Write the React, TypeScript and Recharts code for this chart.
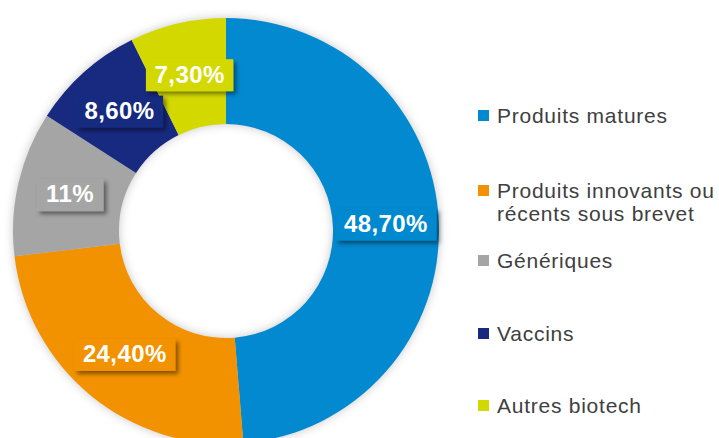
import React from 'react';
import { PieChart, Pie, Cell, Legend } from 'recharts';

const categories = ['Produits matures', 'Produits innovants ou récents sous brevet', 'Génériques', 'Vaccins', 'Autres biotech'];
const shares = [48.7, 24.4, 11, 8.6, 7.3];
const valueLabels = ['48,70%', '24,40%', '11%', '8,60%', '7,30%'];
const colors = ['#0389CF', '#F39200', '#A5A5A5', '#172A80', '#D3D900'];

const data = categories.map((name, i) => ({ name, value: shares[i], label: valueLabels[i], color: colors[i] }));

const RAD = Math.PI / 180;

// rough Arial bold widths at 24px
const textWidth = (s: string) =>
  s.split('').reduce((w, ch) => w + (ch === ',' ? 6.7 : ch === '%' ? 21.3 : 13.8), 0);

const SliceLabel = (props: any) => {
  const { cx, cy, midAngle, innerRadius, outerRadius, index } = props;
  const r = (innerRadius + outerRadius) / 2;
  const x = cx + r * Math.cos(-midAngle * RAD);
  const y = cy + r * Math.sin(-midAngle * RAD);
  const text = valueLabels[index];
  const w = textWidth(text) + 18;
  const h = 32;
  return (
    <g>
      <rect x={x - w / 2} y={y - h / 2} width={w} height={h} fill={colors[index]} filter="url(#lblShadow)" />
      <text
        x={x}
        y={y + 1}
        textAnchor="middle"
        dominantBaseline="middle"
        fill="#fff"
        fontSize={24}
        fontWeight="bold"
        letterSpacing={0.4}
        fontFamily="'Liberation Sans', Arial, sans-serif"
      >
        {text}
      </text>
    </g>
  );
};

const legendTops = [104, 179, 249, 322, 394];

const LegendBox = () => (
  <div style={{ position: 'relative', width: 240, height: 438 }}>
    {data.map((d, i) => (
      <div key={d.name} style={{ position: 'absolute', top: legendTops[i], left: 0, display: 'flex', alignItems: 'flex-start' }}>
        <span style={{ width: 11, height: 11, background: d.color, marginTop: 6, marginRight: 8, flex: 'none' }} />
        <span style={{ fontSize: 21, lineHeight: '23px', color: '#404040', width: 232, letterSpacing: 0.75, whiteSpace: 'nowrap' }}>
          {i === 1 ? (
            <>
              Produits innovants ou
              <br />
              récents sous brevet
            </>
          ) : (
            d.name
          )}
        </span>
      </div>
    ))}
  </div>
);

export default function App() {
  return (
    <div style={{ position: 'absolute', left: 0, top: 0, width: 719, height: 438, background: '#fff', overflow: 'hidden', fontFamily: "'Liberation Sans', Arial, sans-serif" }}>
      <style>{`body{margin:0} .recharts-layer.recharts-pie{filter: drop-shadow(0 0 5px rgba(0,0,0,0.22));}`}</style>
      <svg width={0} height={0} style={{ position: 'absolute' }}>
        <defs>
          <filter id="lblShadow" x="-20%" y="-30%" width="150%" height="180%">
            <feDropShadow dx={3} dy={3} stdDeviation={2} floodColor="#000" floodOpacity={0.45} />
          </filter>
        </defs>
      </svg>
      <PieChart width={719} height={438} margin={{ top: 0, right: 0, bottom: 0, left: 0 }}>
        <Pie
          data={data}
          dataKey="value"
          nameKey="name"
          cx={226}
          cy={231}
          innerRadius={107}
          outerRadius={213}
          startAngle={90}
          endAngle={-270}
          stroke="none"
          label={SliceLabel}
          labelLine={false}
          isAnimationActive={false}
        >
          {data.map((d) => (
            <Cell key={d.name} fill={d.color} />
          ))}
        </Pie>
        <Legend
          content={() => <LegendBox />}
          wrapperStyle={{ position: 'absolute', left: 478, top: 0, width: 241, height: 438 }}
        />
      </PieChart>
    </div>
  );
}
